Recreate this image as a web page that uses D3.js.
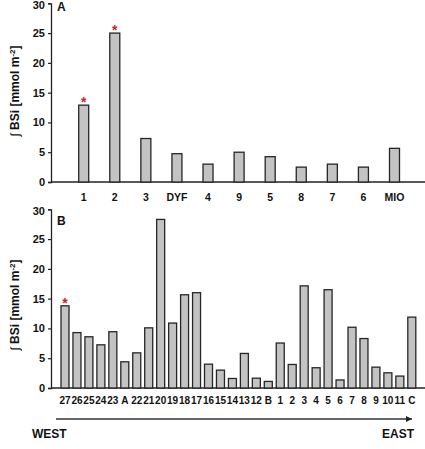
<!DOCTYPE html>
<html>
<head>
<meta charset="utf-8">
<script src="https://cdn.jsdelivr.net/npm/d3@7"></script>
<style>
  body { margin: 0; background: #fff; }
  text { font-family: Arial, "Liberation Sans", sans-serif; font-weight: bold; fill: #111; }
</style>
</head>
<body>
<div id="chart-area"></div>
<script>
// Data

let catsA = ['1', '2', '3', 'DYF', '4', '9', '5', '8', '7', '6', 'MIO']
let valsA = [12.9, 25.0, 7.3, 4.75, 3.0, 5.0, 4.25, 2.5, 3.0, 2.5, 5.65]
let starsA = ['1', '2']

let catsB = ['27', '26', '25', '24', '23', 'A', '22', '21', '20', '19', '18', '17', '16', '15', '14',
  '13', '12', 'B', '1', '2', '3', '4', '5', '6', '7', '8', '9', '10', '11', 'C']
let valsB = [13.8, 9.3, 8.6, 7.25, 9.45, 4.4, 5.9, 10.1, 28.3, 10.9, 15.65, 16.0, 4.0, 3.0, 1.6,
  5.8, 1.65, 1.1, 7.55, 3.95, 17.15, 3.4, 16.5, 1.35, 10.2, 8.3, 3.5, 2.55, 2.0, 11.9]
let starsB = ['27']

let yTicks = [0, 5, 10, 15, 20, 25, 30]

let svg = d3.select('#chart-area').append('svg')
  .attr('width', 425)
  .attr('height', 449)

// draws one panel
function panel(opts) {
  let g = svg.append('g')

  let x = d3.scalePoint().domain(opts.cats).range(opts.xRange)
  let y = d3.scaleLinear().domain([0, 30]).range(opts.yRange)

  // y axis
  let yAxis = g.append('g')
    .attr('transform', 'translate(51, 0)')
    .call(d3.axisLeft(y).tickValues(yTicks).tickSize(3).tickPadding(3))
  yAxis.select('.domain').attr('stroke', '#222').attr('stroke-width', 1.3)
  yAxis.selectAll('.tick line').attr('stroke', '#222').attr('stroke-width', 1.2)
  yAxis.selectAll('.tick text')
    .attr('font-size', 11)
    .attr('font-family', 'Arial, "Liberation Sans", sans-serif')
    .attr('font-weight', 'bold')
    .attr('fill', '#111')
    .attr('y', (d) => d === 30 ? 2 : 0)   // top label sits a bit lower, like the original

  // x axis line
  g.append('line')
    .attr('x1', 51).attr('x2', 425)
    .attr('y1', y(0)).attr('y2', y(0))
    .attr('stroke', '#222').attr('stroke-width', 1.3)

  // bars
  g.selectAll('rect.bar')
    .data(opts.vals)
    .enter().append('rect')
    .attr('class', 'bar')
    .attr('x', (d, i) => x(opts.cats[i]) - opts.barW / 2)
    .attr('y', (d) => y(d))
    .attr('width', opts.barW)
    .attr('height', (d) => y(0) - y(d))
    .attr('fill', '#c3c3c3')
    .attr('stroke', '#262626')
    .attr('stroke-width', 1.3)

  // category labels
  g.selectAll('text.cat')
    .data(opts.cats)
    .enter().append('text')
    .attr('class', 'cat')
    .attr('x', (d) => x(d))
    .attr('y', y(0) + opts.labelDy)
    .attr('text-anchor', 'middle')
    .attr('font-size', opts.labelSize)
    .text((d) => d)

  // significance stars
  g.selectAll('text.star')
    .data(opts.stars)
    .enter().append('text')
    .attr('class', 'star')
    .attr('x', (d) => x(d))
    .attr('y', (d) => y(opts.vals[opts.cats.indexOf(d)]) + 2)
    .attr('text-anchor', 'middle')
    .attr('font-size', 14)
    .style('fill', '#d0201e')
    .text('*')

  // panel letter
  g.append('text')
    .attr('x', 57)
    .attr('y', y(30) + opts.letterDy)
    .attr('font-size', 12)
    .text(opts.letter)

  // y title
  let t = g.append('text')
    .attr('transform', 'translate(19, ' + opts.titleY + ') rotate(-90)')
    .attr('text-anchor', 'middle')
    .attr('font-size', 12)
  t.append('tspan').attr('font-weight', 'normal').text('\u222B ')
  t.append('tspan').text('BSi [mmol m')
  t.append('tspan').attr('font-size', 8).attr('dy', -4).text('-2')
  t.append('tspan').attr('dy', 4).text(']')
}

panel({ cats: catsA, vals: valsA, stars: starsA, xRange: [83.7, 394.5], yRange: [182, 3.3],
  barW: 10, labelDy: 19, labelSize: 10.5, letter: 'A', letterDy: 8, titleY: 91 })

panel({ cats: catsB, vals: valsB, stars: starsB, xRange: [65, 411.8], yRange: [388, 209.3],
  barW: 8, labelDy: 16, labelSize: 10, letter: 'B', letterDy: 16, titleY: 305 })

// WEST -> EAST arrow
svg.append('defs').append('marker')
  .attr('id', 'arrow')
  .attr('viewBox', '0 0 10 10')
  .attr('refX', 10).attr('refY', 5)
  .attr('markerWidth', 4).attr('markerHeight', 4)
  .attr('orient', 'auto')
  .append('path')
  .attr('d', 'M0,0 L10,5 L0,10 Z')
  .attr('fill', '#222')

svg.append('line')
  .attr('x1', 56).attr('x2', 412)
  .attr('y1', 419).attr('y2', 419)
  .attr('stroke', '#333').attr('stroke-width', 1.5)
  .attr('marker-end', 'url(#arrow)')

svg.append('text').attr('x', 32).attr('y', 438).attr('font-size', 12).text('WEST')
svg.append('text').attr('x', 414).attr('y', 438).attr('font-size', 12)
  .attr('text-anchor', 'end').text('EAST')
</script>
</body>
</html>
